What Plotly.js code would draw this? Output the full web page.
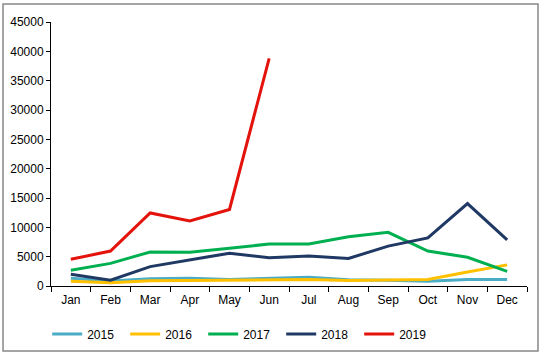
<!DOCTYPE html>
<html>
<head>
<meta charset="utf-8">
<script src="https://cdn.plot.ly/plotly-3.0.1.min.js"></script>
<style>
html,body{margin:0;padding:0;background:#fff;}
#chart{width:545px;height:354px;}
</style>
</head>
<body>
<div id="chart"></div>
<script>
const months = ["Jan","Feb","Mar","Apr","May","Jun","Jul","Aug","Sep","Oct","Nov","Dec"];
const years = ["2015","2016","2017","2018","2019"];
const v2015 = [1300, 850, 1250, 1300, 1100, 1300, 1500, 1050, 1000, 800, 1100, 1100];
const v2016 = [800, 550, 900, 950, 900, 1000, 1100, 950, 1000, 1100, 2400, 3600];
const v2017 = [2700, 3850, 5800, 5750, 6450, 7150, 7150, 8400, 9150, 5950, 4900, 2500];
const v2018 = [2000, 1000, 3300, 4400, 5600, 4800, 5100, 4700, 6800, 8200, 14050, 7850];
const v2019 = [4550, 5950, 12450, 11100, 13050, 38800];
const colors = ["#4BACC6", "#FFC000", "#00B050", "#1F3864", "#E3120B"];
const seriesValues = [v2015, v2016, v2017, v2018, v2019];

const traces = years.map((y, i) => ({
  type: "scatter",
  mode: "lines",
  name: y,
  x: months.slice(0, seriesValues[i].length),
  y: seriesValues[i],
  line: {color: colors[i], width: 3},
  hoverinfo: "x+y+name"
}));

const layout = {
  width: 545,
  height: 354,
  margin: {l: 51, r: 18, t: 22, b: 68, autoexpand: false},
  paper_bgcolor: "#ffffff",
  plot_bgcolor: "#ffffff",
  font: {family: "Liberation Sans, Arial, sans-serif", size: 12, color: "#000"},
  showlegend: true,
  legend: {
    orientation: "h",
    x: -0.008,
    xanchor: "left",
    y: -0.127,
    yanchor: "top",
    entrywidth: 33,
    entrywidthmode: "pixels",
    font: {size: 12, color: "#000"},
    traceorder: "normal"
  },
  xaxis: {
    type: "category",
    categoryorder: "array",
    categoryarray: months,
    range: [-0.5, 11.5],
    showgrid: false,
    zeroline: false,
    showline: true,
    linecolor: "#000",
    linewidth: 1,
    ticks: "outside",
    tickson: "boundaries",
    ticklen: 5,
    tickcolor: "#000",
    ticklabelstandoff: 3,
    tickfont: {size: 12, color: "#000"}
  },
  yaxis: {
    range: [0, 45000],
    dtick: 5000,
    showgrid: false,
    zeroline: false,
    showline: true,
    linecolor: "#000",
    linewidth: 1,
    ticks: "outside",
    ticklen: 4,
    tickcolor: "#000",
    tickformat: "d",
    tickfont: {size: 12, color: "#000"}
  },
  shapes: [{
    type: "rect",
    xref: "paper", yref: "paper",
    x0: -0.1008, x1: 1.0231, y0: -0.2462, y1: 1.0682,
    line: {color: "#888", width: 1.5},
    fillcolor: "rgba(0,0,0,0)"
  }]
};

Plotly.newPlot("chart", traces, layout, {displayModeBar: false, staticPlot: true});
</script>
</body>
</html>
